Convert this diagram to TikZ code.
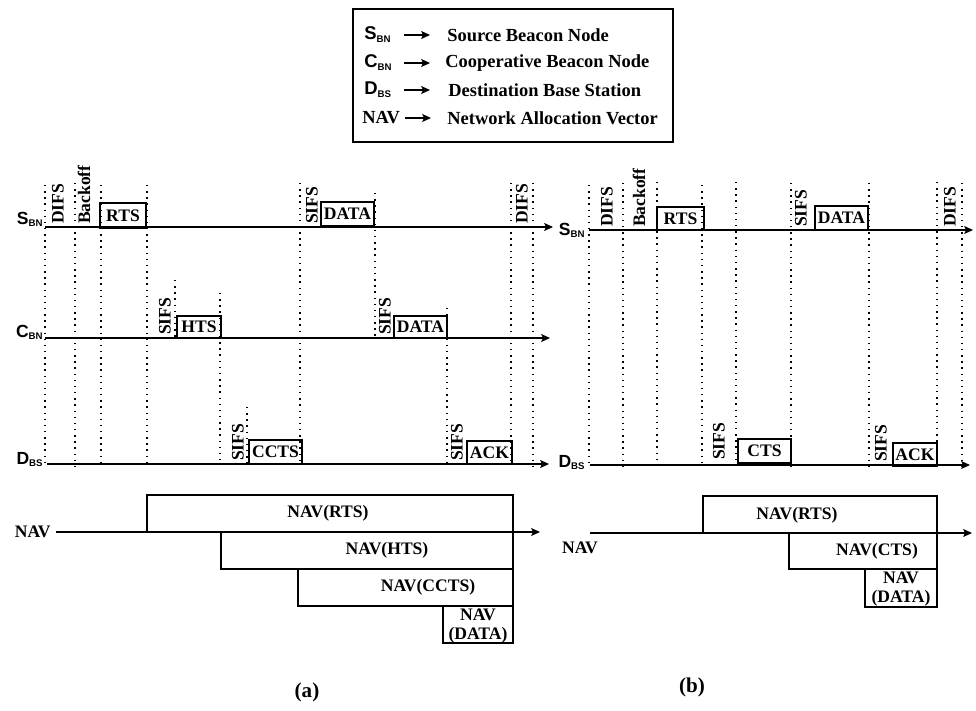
\documentclass[tikz,border=0pt]{standalone}
\usepackage{fontspec}
\setmainfont{Liberation Serif}
\setsansfont{Liberation Sans}
\usetikzlibrary{arrows.meta}

\newcommand{\tlname}[2]{\textsf{\bfseries #1}\raisebox{-0.35ex}{\fontsize{5.5}{6}\selectfont\sffamily\bfseries #2}}

\begin{document}
\begin{tikzpicture}[x=0.02cm,y=-0.02cm,
  font=\fontsize{10}{12}\selectfont\bfseries,
  timeline/.style={line width=0.6pt,-{Stealth[length=5pt,width=4.5pt,inset=1pt]}},
  slotline/.style={line width=0.8pt,dash pattern=on 0.8pt off 2.7pt},
  pktbox/.style={draw,line width=0.7pt,inner sep=0pt},
  ifslbl/.style={rotate=90,anchor=west,inner sep=1pt},
  navbox/.style={draw,line width=0.7pt},
  lgtext/.style={anchor=west,inner sep=0pt,font=\fontsize{10.5}{12}\selectfont\bfseries}]
  \useasboundingbox (0,0) rectangle (976,710);

  \draw[line width=0.8pt] (353,9) rectangle (673,142);
  \node[lgtext] (lgS) at (364,35) {\tlname{S}{BN}};
  \node[lgtext] (lgC) at (364,63) {\tlname{C}{BN}};
  \node[lgtext] (lgD) at (364,90) {\tlname{D}{BS}};
  \node[lgtext] (lgN) at (362,118) {NAV};
  \node[lgtext] (lgSt) at (447,35) {Source Beacon Node};
  \node[lgtext] (lgCt) at (445,63) {Cooperative Beacon Node};
  \node[lgtext] (lgDt) at (448,90) {Destination Base Station};
  \node[lgtext] (lgNt) at (447,118) {Network Allocation Vector};
  \coordinate (lgSa) at (404,35); \coordinate (lgSb) at (430,35);
  \coordinate (lgCa) at (404,63); \coordinate (lgCb) at (430,63);
  \coordinate (lgDa) at (404,90); \coordinate (lgDb) at (430,90);
  \coordinate (lgNa) at (405,118); \coordinate (lgNb) at (431,118);
  \draw[timeline] (lgSa) -- (lgSb);
  \draw[timeline] (lgCa) -- (lgCb);
  \draw[timeline] (lgDa) -- (lgDb);
  \draw[timeline] (lgNa) -- (lgNb);

  \draw[slotline] (45,185) -- (45,466) (75,183) -- (75,466) (101,185) -- (101,466)
    (147,185) -- (147,466) (175,280) -- (175,338) (220,293) -- (220,464)
    (247,407) -- (247,464) (300,183) -- (300,464) (375,193) -- (375,338)
    (447,308) -- (447,464) (511,183) -- (511,464) (533,183) -- (533,466);
  \draw[slotline] (589,185) -- (589,466) (623,183) -- (623,466) (657,182) -- (657,466)
    (702,185) -- (702,466) (736,182) -- (736,466) (791,183) -- (791,466)
    (869,183) -- (869,466) (937,182) -- (937,466) (962,183) -- (962,466);

  \node[anchor=base east,inner sep=0pt] (sA) at (43,224) {\tlname{S}{BN}};
  \node[anchor=base east,inner sep=0pt] (cA) at (43,337) {\tlname{C}{BN}};
  \node[anchor=base east,inner sep=0pt] (dA) at (43,464) {\tlname{D}{BS}};
  \node[anchor=east,inner sep=0pt] (navA) at (51,532) {NAV};
  \coordinate (sA0) at (45,227); \coordinate (sA1) at (553,227);
  \coordinate (cA0) at (45,338); \coordinate (cA1) at (550,338);
  \coordinate (dA0) at (47,464); \coordinate (dA1) at (549,464);
  \coordinate (navA0) at (56,532); \coordinate (navA1) at (540,532);
  \draw[timeline] (sA0) -- (sA1);
  \draw[timeline] (cA0) -- (cA1);
  \draw[timeline] (dA0) -- (dA1);
  \draw[timeline] (navA0) -- (navA1);

  \node[pktbox,minimum width=0.92cm,minimum height=0.5cm] (rtsA) at (123,215.5) {RTS};
  \node[pktbox,minimum width=1.06cm,minimum height=0.48cm] (dataA1) at (347.5,214) {DATA};
  \node[pktbox,minimum width=0.88cm,minimum height=0.44cm] (htsA) at (199,327) {HTS};
  \node[pktbox,minimum width=1.06cm,minimum height=0.44cm] (dataA2) at (420.5,327) {DATA};
  \node[pktbox,minimum width=1.06cm,minimum height=0.48cm] (cctsA) at (275.5,452) {CCTS};
  \node[pktbox,minimum width=0.9cm,minimum height=0.46cm] (ackA) at (489.5,452.5) {ACK};

  \node[ifslbl] (difsA1) at (58,226) {DIFS};
  \node[ifslbl] (backA) at (84,226) {Backoff};
  \node[ifslbl] (sifsA1) at (312,226) {SIFS};
  \node[ifslbl] (difsA2) at (522,226) {DIFS};
  \node[ifslbl] (sifsA2) at (165,337) {SIFS};
  \node[ifslbl] (sifsA3) at (385,337) {SIFS};
  \node[ifslbl] (sifsA4) at (238,463) {SIFS};
  \node[ifslbl] (sifsA5) at (457,463) {SIFS};

  \draw[navbox] (147,495) rectangle (513,532);
  \draw[navbox] (221,532) rectangle (513,569);
  \draw[navbox] (298,569) rectangle (513,606);
  \draw[navbox] (443,606) rectangle (513,643);
  \node (navrtsA) at (328,513) {NAV(RTS)};
  \node (navhtsA) at (387,550) {NAV(HTS)};
  \node (navcctsA) at (428,587) {NAV(CCTS)};
  \node[align=center,inner sep=0pt,font=\fontsize{10}{10.5}\selectfont\bfseries] (navdataA) at (478,626) {NAV\\(DATA)};

  \node[anchor=base east,inner sep=0pt] (sB) at (585,235) {\tlname{S}{BN}};
  \node[anchor=base east,inner sep=0pt] (dB) at (585,467) {\tlname{D}{BS}};
  \node[inner sep=0pt] (navB) at (580,548) {NAV};
  \coordinate (sB0) at (589,230); \coordinate (sB1) at (973,230);
  \coordinate (dB0) at (590,465); \coordinate (dB1) at (970,465);
  \coordinate (navB0) at (590,533); \coordinate (navB1) at (972,533);
  \draw[timeline] (sB0) -- (sB1);
  \draw[timeline] (dB0) -- (dB1);
  \draw[timeline] (navB0) -- (navB1);

  \node[pktbox,minimum width=0.94cm,minimum height=0.46cm] (rtsB) at (680.5,218.5) {RTS};
  \node[pktbox,minimum width=1.06cm,minimum height=0.48cm] (dataB) at (841.5,218) {DATA};
  \node[pktbox,minimum width=1.06cm,minimum height=0.48cm] (ctsB) at (764.5,451) {CTS};
  \node[pktbox,minimum width=0.88cm,minimum height=0.46cm] (ackB) at (915,454.5) {ACK};

  \node[ifslbl] (difsB1) at (607,229) {DIFS};
  \node[ifslbl] (backB) at (639,229) {Backoff};
  \node[ifslbl] (sifsB1) at (801,229) {SIFS};
  \node[ifslbl] (difsB2) at (950,229) {DIFS};
  \node[ifslbl] (sifsB2) at (719,462) {SIFS};
  \node[ifslbl] (sifsB3) at (881,464) {SIFS};

  \draw[navbox] (703,496) rectangle (937,533);
  \draw[navbox] (789,533) rectangle (937,569);
  \draw[navbox] (865,569) rectangle (937,607);
  \node (navrtsB) at (797,515) {NAV(RTS)};
  \node (navctsB) at (877,551) {NAV(CTS)};
  \node[align=center,inner sep=0pt,font=\fontsize{10}{10.5}\selectfont\bfseries] (navdataB) at (901,589) {NAV\\(DATA)};

  \node[font=\fontsize{12}{13}\selectfont\bfseries] (capA) at (307,692) {(a)};
  \node[font=\fontsize{12}{13}\selectfont\bfseries] (capB) at (692,687) {(b)};
\end{tikzpicture}
\end{document}
